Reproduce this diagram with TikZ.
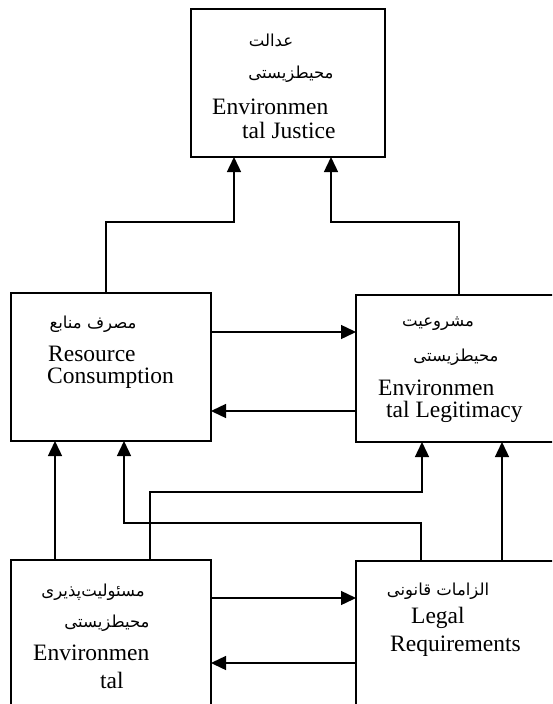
\documentclass[tikz,border=0pt]{standalone}
\usepackage{fontspec}
\setmainfont{Liberation Serif}
\newfontfamily\arabicfont[Script=Arabic]{DejaVu Sans}
\TeXXeTstate=1
\usetikzlibrary{arrows.meta}
\tikzset{
  box/.style={draw, line width=1.5pt, inner sep=0pt, outer sep=0pt},
  en/.style={anchor=west, inner sep=0pt, font=\fontsize{23.5}{23.5}\selectfont},
  fa/.style={inner sep=0pt, font=\arabicfont\fontsize{16.5}{16.5}\selectfont},
  conn/.style={line width=1.4pt},
  arr/.style={line width=1.4pt, -{Triangle[length=15pt,width=14pt]}},
}
\begin{document}
\begin{tikzpicture}[x=1pt,y=-1pt]
\useasboundingbox (0,0) rectangle (552,704);
\clip (0,0) rectangle (552,704);
% boxes
\node[box, minimum width=194pt, minimum height=148pt] (tj) at (288,83) {};
\node[box, minimum width=200pt, minimum height=148pt] (ml) at (111,367) {};
\node[box, minimum width=200pt, minimum height=147pt] (mr) at (456,368.5) {};
\node[box, minimum width=200pt, minimum height=148pt] (bl) at (111,634) {};
\node[box, minimum width=200pt, minimum height=148pt] (br) at (456,635) {};
% texts
\node[fa] (t1) at (271,40) {\beginR عدالت\endR};
\node[fa] (t2) at (291,74) {\beginR محیطزیستی\endR};
\node[en] (t3) at (212,107) {Environmen};
\node[en] (t4) at (242,130) {tal Justice};
\node[fa] (t5) at (93,324) {\beginR مصرف منابع\endR};
\node[en] (t6) at (48,354) {Resource};
\node[en] (t7) at (47,378) {Consumption};
\node[fa] (t8) at (438,324) {\beginR مشروعیت\endR};
\node[fa] (t9) at (456,357) {\beginR محیطزیستی\endR};
\node[en] (t10) at (378,388) {Environmen};
\node[en] (t11) at (386,412) {tal Legitimacy};
\node[fa] (t12) at (93,592) {\beginR مسئولیت‌پذیری\endR};
\node[fa] (t13) at (107,623) {\beginR محیطزیستی\endR};
\node[en] (t14) at (33,653) {Environmen};
\node[en] (t15) at (100,680) {tal};
\node[fa] (t16) at (438,591) {\beginR الزامات قانونی\endR};
\node[en] (t17) at (411,618) {Legal};
\node[en] (t18) at (390,646) {Requirements};
% turning points
\coordinate (p1) at (106,222);
\coordinate (p2) at (234,222);
\coordinate (p3) at (459,222);
\coordinate (p4) at (331,222);
\coordinate (h1) at (0,332);
\coordinate (h2) at (0,411);
\coordinate (h3) at (0,598);
\coordinate (h4) at (0,663);
\coordinate (v1) at (55,0);
\coordinate (q1) at (150,492);
\coordinate (q2) at (422,492);
\coordinate (r1) at (421,523);
\coordinate (r2) at (124,523);
\coordinate (v4) at (502,0);
% connectors
\draw[arr] (ml.north -| p1) -- (p1) -- (p2) -- (tj.south -| p2);
\draw[arr] (mr.north -| p3) -- (p3) -- (p4) -- (tj.south -| p4);
\draw[arr] (ml.east |- h1) -- (mr.west |- h1);
\draw[arr] (mr.west |- h2) -- (ml.east |- h2);
\draw[arr] (bl.north -| v1) -- (ml.south -| v1);
\draw[arr] (bl.north -| q1) -- (q1) -- (q2) -- (mr.south -| q2);
\draw[arr] (br.north -| r1) -- (r1) -- (r2) -- (ml.south -| r2);
\draw[arr] (br.north -| v4) -- (mr.south -| v4);
\draw[arr] (bl.east |- h3) -- (br.west |- h3);
\draw[arr] (br.west |- h4) -- (bl.east |- h4);
\end{tikzpicture}
\end{document}
